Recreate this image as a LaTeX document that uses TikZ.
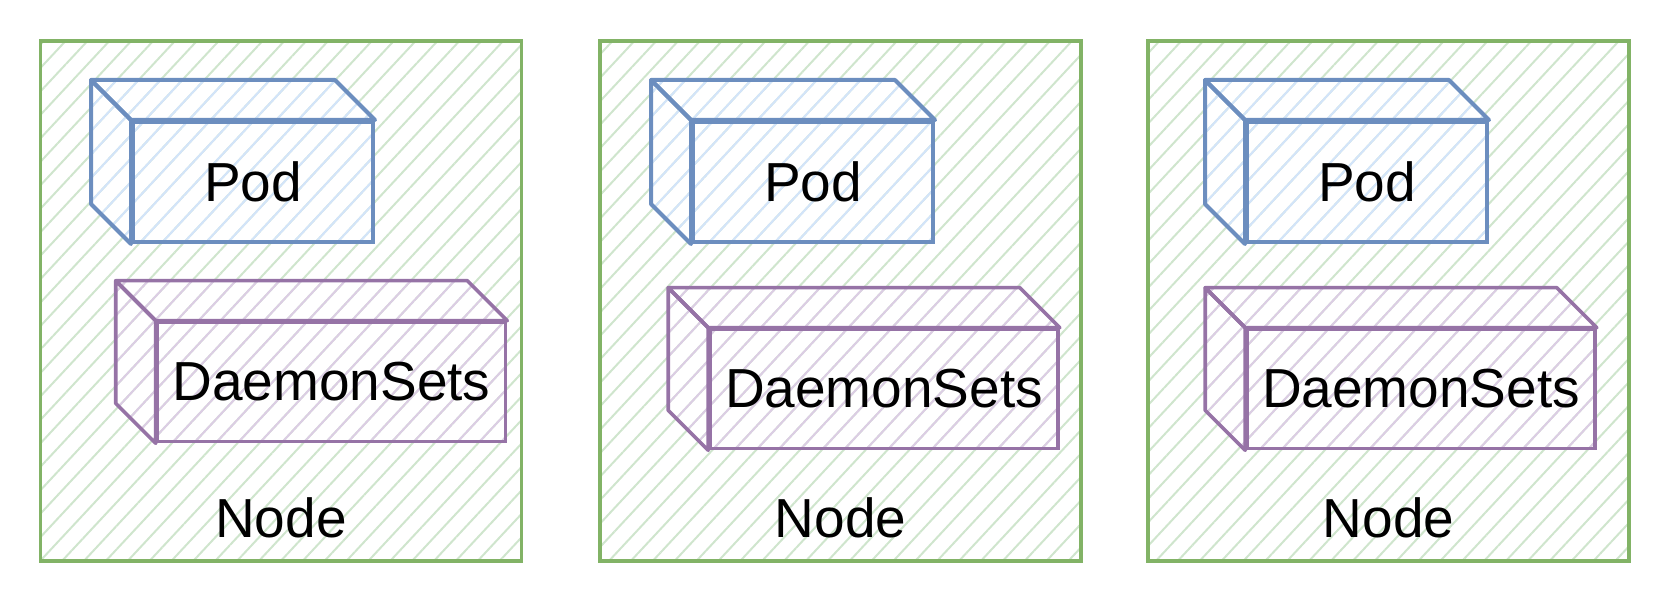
\documentclass[tikz,border=0pt]{standalone}
\usepackage{fontspec}
\setmainfont{Liberation Sans}
\usetikzlibrary{patterns.meta}
\definecolor{greenline}{HTML}{82B366}
\definecolor{greenfill}{HTML}{CFE5CD}
\definecolor{blueline}{HTML}{6C8EBF}
\definecolor{bluefill}{HTML}{D3E4FA}
\definecolor{purpleline}{HTML}{9673A6}
\definecolor{purplefill}{HTML}{DCCDE4}
\tikzset{
  hatch/.style={pattern={Lines[angle=47,distance=8pt,line width=1pt]},pattern color=#1},
  nodebox/.style={draw=greenline,line width=1.8pt,hatch=greenfill,minimum width=240.5pt,minimum height=260pt,inner sep=0pt},
  podface/.style={draw=blueline,line width=2pt,hatch=bluefill,minimum width=120pt,minimum height=60pt,inner sep=0pt,font=\fontsize{27.5}{33}\selectfont},
  podside/.style={draw=blueline,line width=2pt,hatch=bluefill,line join=round},
  dsface/.style={draw=purpleline,line width=1.8pt,hatch=purplefill,minimum width=174pt,minimum height=59.5pt,inner sep=0pt,font=\fontsize{27.5}{33}\selectfont},
  dsside/.style={draw=purpleline,line width=1.8pt,hatch=purplefill,line join=round},
  nodelabel/.style={font=\fontsize{27.5}{33}\selectfont,inner sep=0pt}
}
\begin{document}
\begin{tikzpicture}[x=0.5pt,y=-0.5pt]
	\useasboundingbox (0,0) rectangle (1672,604);
	\foreach \i/\bx/\px/\dx/\dy in {1/281/253/331.5/382, 2/840.5/813/884/389, 3/1388.5/1367/1421/389} {
		\node[nodebox] at (\bx,301) (node\i) {};
		\node[nodelabel] at (\bx,518) (lbl\i) {Node};
		
		\node[podface] at (\px,182) (pod\i) {Pod};
		\draw[podside] (pod\i.north west) -- ++(-40,-40) -- ([shift={(-40,-40)}]pod\i.north east) -- (pod\i.north east) -- cycle;
		\draw[podside] (pod\i.north west) -- ++(-40,-40) -- ([shift={(-40,-40)}]pod\i.south west) -- (pod\i.south west) -- cycle;
		
		\node[dsface] at (\dx,\dy) (ds\i) {DaemonSets};
		\draw[dsside] (ds\i.north west) -- ++(-40,-40) -- ([shift={(-40,-40)}]ds\i.north east) -- (ds\i.north east) -- cycle;
		\draw[dsside] (ds\i.north west) -- ++(-40,-40) -- ([shift={(-40,-40)}]ds\i.south west) -- (ds\i.south west) -- cycle;
	}
\end{tikzpicture}
\end{document}
